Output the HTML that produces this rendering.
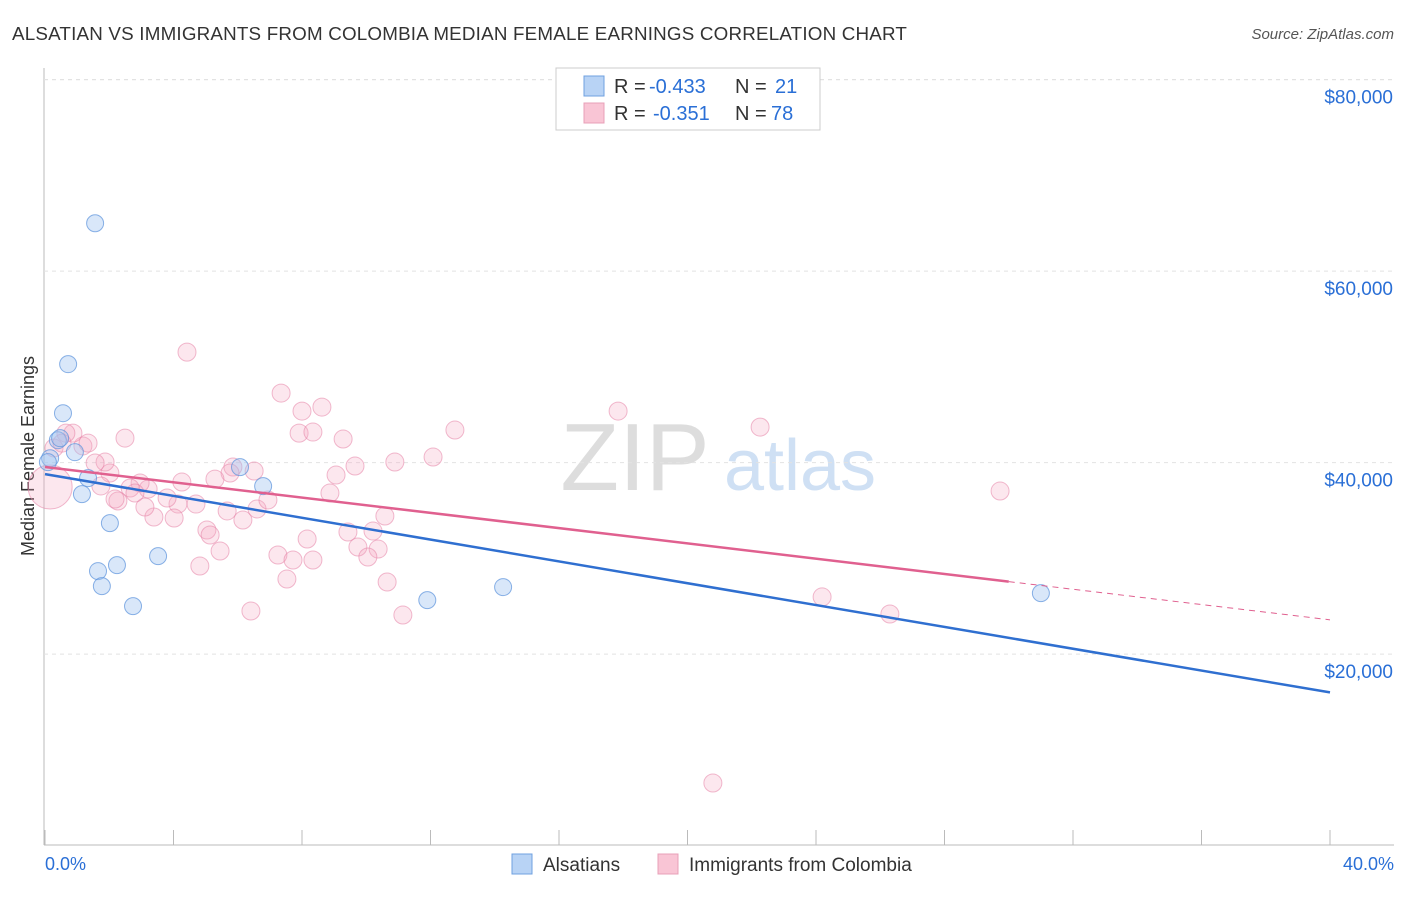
<!DOCTYPE html>
<html><head><meta charset="utf-8"><style>
body{margin:0;background:#fff;font-family:"Liberation Sans",sans-serif}
svg text{font-family:"Liberation Sans",sans-serif}
</style></head><body>
<svg id="c" width="1406" height="892">
<text x="12" y="40" font-size="18.8" letter-spacing="0.2" fill="#333">ALSATIAN VS IMMIGRANTS FROM COLOMBIA MEDIAN FEMALE EARNINGS CORRELATION CHART</text>
<text x="1394" y="39" font-size="15" fill="#555" font-style="italic" text-anchor="end">Source: ZipAtlas.com</text>
<text x="34" y="456" font-size="18" fill="#333" text-anchor="middle" transform="rotate(-90 34 456)">Median Female Earnings</text>
<g><text x="635" y="490" font-size="96" fill="#ddd" font-family="Liberation Serif" text-anchor="middle">ZIP</text><text x="800" y="490" font-size="72" fill="#cfe0f4" text-anchor="middle">atlas</text></g>
<g id="grid"></g><g id="marks"></g>
<g>
<rect x="556" y="68" width="264" height="62" fill="#fff" stroke="#ccc"/>
<rect x="584" y="76" width="20" height="20" fill="#b8d3f5" stroke="#6fa0e0"/>
<rect x="584" y="103" width="20" height="20" fill="#f9c5d5" stroke="#e8a0b8"/>
<text x="614" y="93" font-size="20" fill="#333">R =</text>
<text x="649" y="93" font-size="20" fill="#2a6fd6">-0.433</text>
<text x="735" y="93" font-size="20" fill="#333">N =</text>
<text x="775" y="93" font-size="20" fill="#2a6fd6">21</text>
<text x="614" y="120" font-size="20" fill="#333">R =</text>
<text x="653" y="120" font-size="20" fill="#2a6fd6">-0.351</text>
<text x="735" y="120" font-size="20" fill="#333">N =</text>
<text x="771" y="120" font-size="20" fill="#2a6fd6">78</text>
</g>
<g>
<rect x="512" y="854" width="20" height="20" fill="#b8d3f5" stroke="#6fa0e0"/>
<text x="543" y="871" font-size="19" fill="#333">Alsatians</text>
<rect x="658" y="854" width="20" height="20" fill="#f9c5d5" stroke="#e8a0b8"/>
<text x="689" y="871" font-size="19" fill="#333">Immigrants from Colombia</text>
</g>
<text x="45" y="870" font-size="18" fill="#2a6fd6">0.0%</text>
<text x="1394" y="870" font-size="18" fill="#2a6fd6" text-anchor="end">40.0%</text>
</svg>
<script>
const yTicks=[20000,40000,60000,80000];
const yTickLabels=["$20,000","$40,000","$60,000","$80,000"];
const xTicks=[0,4,8,12,16,20,24,28,32,36,40];
const blueX=[1.56,0.72,0.56,0.40,0.16,0.93,1.34,1.15,2.02,3.52,1.65,2.24,1.77,2.74,6.07,6.79,11.9,14.26,31.0,0.09,0.47];
const blueY=[65000,50280,45160,42340,40460,41090,38380,36710,33680,30230,28670,29290,27100,25010,39530,37540,25640,27000,26370,40050,42550];
const pinkX=[4.42,7.35,8.00,8.62,7.91,8.34,9.28,2.49,12.76,10.89,12.08,9.65,9.06,8.87,10.58,9.43,10.21,9.74,10.37,10.05,8.16,7.25,7.72,8.34,7.53,10.65,11.14,6.41,4.82,5.45,5.04,5.14,6.16,5.67,6.60,6.94,6.51,5.85,5.76,5.29,4.26,4.70,4.14,4.02,3.80,3.39,3.11,3.21,2.96,2.65,2.80,2.27,2.18,2.02,1.74,1.87,1.56,1.18,0.87,0.65,0.28,17.84,22.26,29.73,24.19,26.30,20.79,0.53,1.34,0.16];
const pinkY=[51540,47260,45380,45800,43080,43190,42460,42560,43400,40060,40580,39640,38700,36820,34420,32750,32850,31180,30970,30140,32020,30350,29830,29830,27840,27530,24080,24500,29200,30770,32960,32440,34000,34950,35160,36090,39120,39540,38910,38280,37970,35670,35670,34210,36300,34320,35360,37240,37870,37350,36820,35990,36200,38910,37560,40060,39960,41740,43080,43080,41530,45380,43710,37030,25970,24190,6540,42040,42040,37450];
const pinkR=pinkX.map((v,i)=>i===pinkX.length-1?22:9);
const blueLine=[38800,16000];
const pinkLine=[39540,23580];
const pinkSolidEnd=30;
const NS="http://www.w3.org/2000/svg";
const X=v=>45+v/40*1285, Y=v=>845.6-v/20000*191.5;
function mk(t,a,p){const e=document.createElementNS(NS,t);for(const k in a)e.setAttribute(k,a[k]);p.appendChild(e);return e;}
const g=document.getElementById('grid'),m=document.getElementById('marks');
mk('line',{x1:44,y1:68,x2:44,y2:845,stroke:'#bbb'},g);
mk('line',{x1:44,y1:845,x2:1394,y2:845,stroke:'#bbb'},g);
mk('line',{x1:44,y1:Y(80000),x2:1394,y2:Y(80000),stroke:'#ddd','stroke-dasharray':'4,4'},g);
yTicks.forEach((t,i)=>{
 const l=mk('line',{x1:44,y1:Y(t),x2:1394,y2:Y(t),stroke:'#e2e2e2','stroke-dasharray':'4,4'},g);
 
 
 const tx=mk('text',{x:1393,y:Y(t)+24,'font-size':19,fill:'#2a6fd6','text-anchor':'end'},g);tx.textContent=yTickLabels[i];
 
 
});
xTicks.forEach(t=>{const l=mk('line',{x1:X(t),y1:830,x2:X(t),y2:845,stroke:'#bbb'},g);
 
 });
pinkX.forEach((v,i)=>{const c=mk('circle',{cx:X(v),cy:Y(pinkY[i]),r:pinkR[i],fill:'rgba(245,170,195,0.28)',stroke:'rgba(230,130,165,0.55)','stroke-width':1},m);
 
 });
blueX.forEach((v,i)=>{const c=mk('circle',{cx:X(v),cy:Y(blueY[i]),r:8.5,fill:'rgba(160,196,240,0.4)',stroke:'rgba(90,145,220,0.7)','stroke-width':1},m);
 
 });
const bl=mk('line',{x1:X(0),y1:Y(blueLine[0]),x2:X(40),y2:Y(blueLine[1]),stroke:'#2f6fd0','stroke-width':2.5},m);


const pe=pinkLine[0]+(pinkLine[1]-pinkLine[0])*pinkSolidEnd/40;
const pl=mk('line',{x1:X(0),y1:Y(pinkLine[0]),x2:X(pinkSolidEnd),y2:Y(pe),stroke:'#e0608f','stroke-width':2.5},m);


const pd=mk('line',{x1:X(pinkSolidEnd),y1:Y(pe),x2:X(40),y2:Y(pinkLine[1]),stroke:'#e0608f','stroke-width':1,'stroke-dasharray':'6,5'},m);


</script>
</body></html>
